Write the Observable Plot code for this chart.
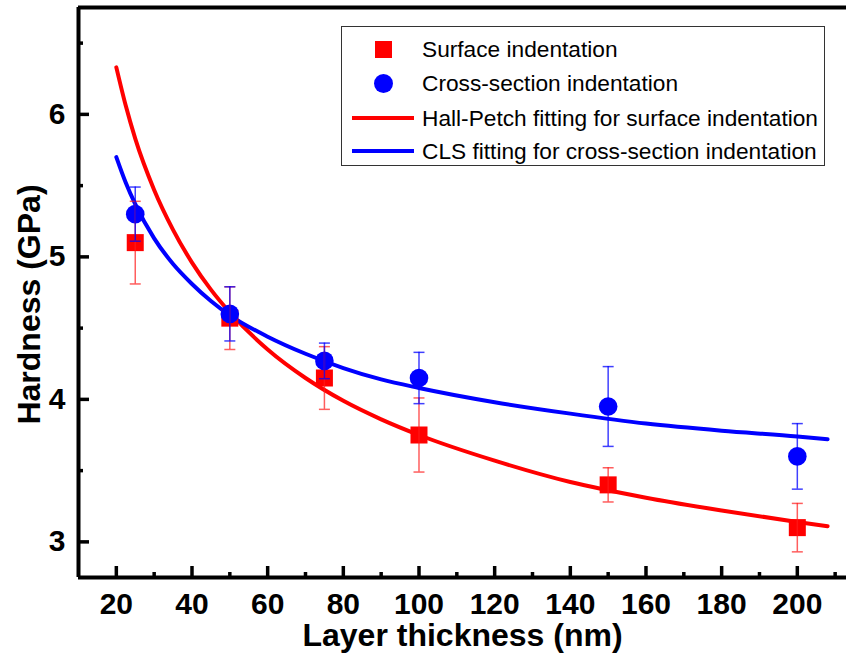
<!DOCTYPE html>
<html>
<head>
<meta charset="utf-8">
<script src="https://cdn.jsdelivr.net/npm/d3@7"></script>
<script src="https://cdn.jsdelivr.net/npm/@observablehq/plot@0.6"></script>
<style>
  body { margin: 0; background: #fff; font-family: "Liberation Sans", Arial, sans-serif; }
  #chart { position: relative; width: 846px; height: 656px; overflow: hidden; }
  #chart svg { display: block; }
  .legend { position: absolute; left: 341px; top: 26px; width: 482px; height: 138px;
            border: 1px solid #333; background: #fff; }
  .row { position: absolute; left: 0; height: 34px; display: flex; align-items: center;
         font-size: 22.7px; color: #000; white-space: nowrap; }
  .sw { width: 62px; margin-left: 10px; margin-right: 8px; display: flex; justify-content: center; align-items: center; }
  .sq { width: 17px; height: 17px; background: #ff0000; }
  .ci { width: 19px; height: 19px; border-radius: 50%; background: #0000ff; }
  .ln { width: 62px; height: 4px; }
</style>
</head>
<body>
<div id="chart"></div>
<script>
// Layer thickness (nm) of the measured samples
const thickness = [25, 50, 75, 100, 150, 200];

// Surface indentation hardness (GPa) and error
const surfaceH = [5.10, 4.57, 4.15, 3.75, 3.40, 3.10];
const surfaceErr = [0.29, 0.22, 0.22, 0.26, 0.12, 0.17];

// Cross-section indentation hardness (GPa) and error
const crossH = [5.30, 4.60, 4.27, 4.15, 3.95, 3.60];
const crossErr = [0.19, 0.19, 0.125, 0.18, 0.28, 0.23];

// Fitted curves sampled along the thickness range
const fitX = [20, 22.5, 25, 30, 35, 40, 45, 50, 60, 70, 80, 90, 100, 120, 140, 160, 180, 200, 208];
const hallPetchH = [6.33, 6.06, 5.83, 5.47, 5.19, 4.96, 4.77, 4.61, 4.35, 4.15, 3.99, 3.86, 3.75, 3.57, 3.42, 3.31, 3.22, 3.14, 3.11];
const clsH = [5.70, 5.52, 5.37, 5.13, 4.95, 4.81, 4.69, 4.59, 4.44, 4.32, 4.22, 4.14, 4.08, 3.98, 3.90, 3.83, 3.78, 3.74, 3.72];

// Axis ticks
const xMajor = [20, 40, 60, 80, 100, 120, 140, 160, 180, 200];
const xMinor = [30, 50, 70, 90, 110, 130, 150, 170, 190, 210];
const yMajor = [3, 4, 5, 6];
const yMinor = [3.5, 4.5, 5.5, 6.5];

const legendItems = [
  {label: "Surface indentation", kind: "sq"},
  {label: "Cross-section indentation", kind: "ci"},
  {label: "Hall-Petch fitting for surface indentation", kind: "ln", color: "#ff0000"},
  {label: "CLS fitting for cross-section indentation", kind: "ln", color: "#0000ff"}
];

const surface = thickness.map((t, i) => ({t, h: surfaceH[i], e: surfaceErr[i]}));
const cross = thickness.map((t, i) => ({t, h: crossH[i], e: crossErr[i]}));
const fits = fitX.map((t, i) => ({t, hp: hallPetchH[i], cls: clsH[i]}));

// Horizontal cap drawn at the ends of each error bar
const cap = {
  draw(ctx, size) {
    const r = Math.sqrt(size / Math.PI);
    ctx.moveTo(-r, 0);
    ctx.lineTo(r, 0);
  }
};

const errBars = (data, color, opacity) => [
  Plot.ruleX(data, {x: "t", y1: d => d.h - d.e, y2: d => d.h + d.e, stroke: color, strokeOpacity: opacity, strokeWidth: 1.5}),
  Plot.dot(data, {x: "t", y: d => d.h - d.e, symbol: cap, r: 5.5, stroke: color, strokeOpacity: opacity, strokeWidth: 1.5}),
  Plot.dot(data, {x: "t", y: d => d.h + d.e, symbol: cap, r: 5.5, stroke: color, strokeOpacity: opacity, strokeWidth: 1.5})
];

const bold = {fontSize: 30, fontWeight: "bold", fill: "black"};

const chart = Plot.plot({
  width: 846,
  height: 656,
  marginLeft: 78,
  marginRight: 0,
  marginTop: 7,
  marginBottom: 79,
  x: {domain: [10, 213], axis: null},
  y: {domain: [2.75, 6.75], axis: null},
  style: {fontFamily: "'Liberation Sans', Arial, sans-serif", background: "white", color: "black"},
  marks: [
    Plot.line(fits, {x: "t", y: "hp", stroke: "#ff0000", strokeWidth: 4, curve: "monotone-x"}),
    Plot.line(fits, {x: "t", y: "cls", stroke: "#0000ff", strokeWidth: 4, curve: "monotone-x"}),
    Plot.dot(surface, {x: "t", y: "h", symbol: "square", r: 9.6, fill: "#ff0000"}),
    Plot.dot(cross, {x: "t", y: "h", symbol: "circle", r: 9.3, fill: "#0000ff"}),
    ...errBars(surface, "#ff1a1a", 0.7),
    ...errBars(cross, "#0000ff", 0.75),

    // frame: left, bottom and top spines
    Plot.ruleX([10], {x: d => d, stroke: "black", strokeWidth: 4}),
    Plot.ruleY([2.75, 6.75], {y: d => d, stroke: "black", strokeWidth: 4}),

    // inward ticks
    Plot.tickX(xMajor, {x: d => d, insetTop: 559, stroke: "black", strokeWidth: 3.5}),
    Plot.tickX(xMinor, {x: d => d, insetTop: 565, stroke: "black", strokeWidth: 3.5}),
    Plot.tickY(yMajor, {y: d => d, insetRight: 757, stroke: "black", strokeWidth: 3.5}),
    Plot.tickY(yMinor, {y: d => d, insetRight: 763, stroke: "black", strokeWidth: 3.5}),

    // tick labels
    Plot.text(xMajor, {x: d => d, text: d => String(d), frameAnchor: "bottom", dy: 15, lineAnchor: "top", textAnchor: "middle", ...bold}),
    Plot.text(yMajor, {y: d => d, text: d => String(d), frameAnchor: "left", dx: -13, lineAnchor: "middle", textAnchor: "end", ...bold}),

    // axis titles
    Plot.text(["Layer thickness (nm)"], {text: d => d, frameAnchor: "bottom", dy: 58, lineAnchor: "middle", textAnchor: "middle", fontSize: 32, fontWeight: "bold", fill: "black"}),
    Plot.text(["Hardness (GPa)"], {text: d => d, frameAnchor: "left", rotate: -90, dx: -49, dy: 12, lineAnchor: "middle", textAnchor: "middle", fontSize: 32, fontWeight: "bold", fill: "black"})
  ]
});

const root = document.getElementById("chart");
root.appendChild(chart);

// Legend box drawn over the plot area
const legend = document.createElement("div");
legend.className = "legend";
const rowTops = [5, 39, 74, 107];
legendItems.forEach((item, i) => {
  const row = document.createElement("div");
  row.className = "row";
  row.style.top = rowTops[i] + "px";
  const sw = document.createElement("div");
  sw.className = "sw";
  const mark = document.createElement("div");
  mark.className = item.kind;
  if (item.color) mark.style.background = item.color;
  sw.appendChild(mark);
  const label = document.createElement("span");
  label.textContent = item.label;
  row.appendChild(sw);
  row.appendChild(label);
  legend.appendChild(row);
});
root.appendChild(legend);
</script>
</body>
</html>
